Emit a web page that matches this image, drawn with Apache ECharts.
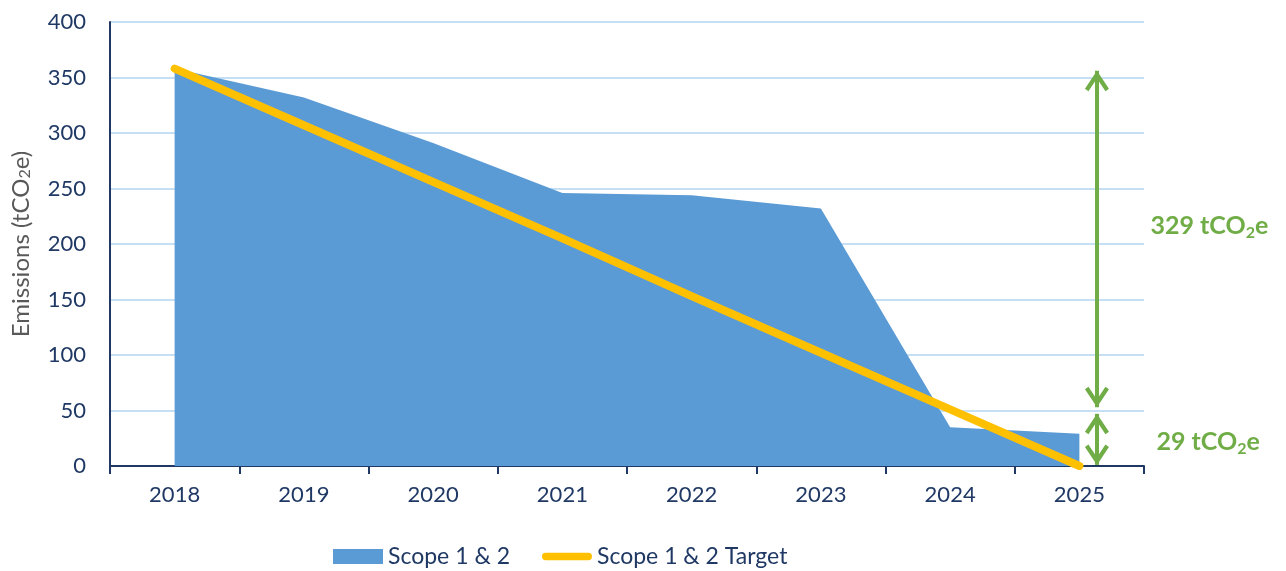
<!DOCTYPE html>
<html>
<head>
<meta charset="utf-8">
<script src="https://cdn.jsdelivr.net/npm/echarts@6/dist/echarts.min.js"></script>
<style>html,body{margin:0;padding:0;background:#fff;}#c{width:1286px;height:571px;}</style>
</head>
<body>
<div id="c"></div>
<script>
const years = ['2018','2019','2020','2021','2022','2023','2024','2025'];
const scope12 = [358, 332, 291, 246, 244, 232, 35, 29];
const target = [358, 307, 256, 205, 153, 102, 51, 0];
const yTicks = {min: 0, max: 400, interval: 50};
// annotation arrows (x on hidden value axis aligned with categories)
const arrowX = 7.136;
const arrowBig = [356, 53];
const arrowSmall = [47, 1];
const labelBig = {x: 7.136, y: 216, text: ['329 tCO', '2', 'e']};
const labelSmall = {x: 7.136, y: 22, text: ['29 tCO', '2', 'e']};

const NAVY = '#1F3864';
const GREEN = '#70AD47';
const FONT = 'Lato';
const chev = 'path://M12,0 L24,18 L20.5,20.5 L12,7.75 L3.5,20.5 L0,18 Z M12,-20.5 L12.01,-20.5 Z';
const lineIcon = 'path://M4,0 L51,0 A4,4 0 0 1 51,8 L4,8 A4,4 0 0 1 4,0 Z';

const richLbl = {
  a: {fontSize: 25, fontWeight: 'bold', color: GREEN, fontFamily: FONT, lineHeight: 30},
  s: {fontSize: 16, fontWeight: 'bold', color: GREEN, fontFamily: FONT, lineHeight: 16, verticalAlign: 'bottom'}
};

const chart = echarts.init(document.getElementById('c'), null, {renderer: 'canvas'});
chart.setOption({
  animation: false,
  textStyle: {fontFamily: FONT},
  grid: {left: 110, right: 142, top: 22, bottom: 105, containLabel: false},
  legend: {
    top: 545, left: 333, padding: 0,
    itemWidth: 50, itemHeight: 15, itemGap: 32,
    textStyle: {fontSize: 23, color: NAVY, fontFamily: FONT, padding: [0, 0, 0, 0]},
    data: [
      {name: 'Scope 1 & 2', icon: 'rect'},
      {name: 'Scope 1 & 2 Target', icon: lineIcon}
    ]
  },
  xAxis: [{
    type: 'category', data: years, boundaryGap: true,
    axisLine: {lineStyle: {color: NAVY, width: 2}},
    axisTick: {show: true, length: 8, lineStyle: {color: NAVY, width: 2}},
    axisLabel: {fontSize: 22, color: NAVY, margin: 18, fontFamily: FONT},
    splitLine: {show: false}
  }, {
    type: 'value', min: -0.5, max: 7.5, show: false
  }],
  yAxis: {
    type: 'value', min: yTicks.min, max: yTicks.max, interval: yTicks.interval,
    name: 'Emissions (tCO{s|2}e)', nameLocation: 'middle', nameGap: 77,
    nameTextStyle: {fontSize: 24, color: '#595959', fontFamily: FONT,
      rich: {s: {fontSize: 16, color: '#595959', fontFamily: FONT, verticalAlign: 'bottom', lineHeight: 16}}},
    axisLine: {show: true, onZero: false, lineStyle: {color: NAVY, width: 2}},
    axisTick: {show: false},
    axisLabel: {fontSize: 22, color: NAVY, margin: 24, fontFamily: FONT},
    splitLine: {lineStyle: {color: '#C5E0F5', width: 2}}
  },
  series: [{
    name: 'Scope 1 & 2', type: 'line', data: scope12,
    symbol: 'none', lineStyle: {width: 0}, itemStyle: {color: '#5B9BD5'},
    areaStyle: {color: '#5B9BD5', opacity: 1}, z: 2
  }, {
    name: 'Scope 1 & 2 Target', type: 'line', data: target,
    symbol: 'none', itemStyle: {color: '#FFC000'},
    lineStyle: {color: '#FFC000', width: 8, cap: 'round'}, z: 3
  }, {
    name: 'annot', type: 'line', xAxisIndex: 1, data: [],
    symbol: 'none', silent: true, z: 4,
    markLine: {
      silent: true, animation: false,
      symbol: [chev, chev], symbolSize: [24, 41], symbolKeepAspect: true,
      lineStyle: {color: GREEN, width: 4, type: 'solid', cap: 'butt'},
      label: {show: false},
      data: [
        [{coord: [arrowX, arrowBig[0]]}, {coord: [arrowX, arrowBig[1]]}],
        [{coord: [arrowX, arrowSmall[0]]}, {coord: [arrowX, arrowSmall[1]]}]
      ]
    },
    markPoint: {
      silent: true, animation: false,
      symbol: 'circle', symbolSize: 1, itemStyle: {color: 'rgba(0,0,0,0)'},
      label: {show: true, position: 'right', rich: richLbl},
      data: [
        {coord: [labelBig.x, labelBig.y], label: {distance: 53, formatter: '{a|' + labelBig.text[0] + '}{s|' + labelBig.text[1] + '}{a|' + labelBig.text[2] + '}'}},
        {coord: [labelSmall.x, labelSmall.y], label: {distance: 59, formatter: '{a|' + labelSmall.text[0] + '}{s|' + labelSmall.text[1] + '}{a|' + labelSmall.text[2] + '}'}}
      ]
    }
  }]
});
</script>
</body>
</html>
